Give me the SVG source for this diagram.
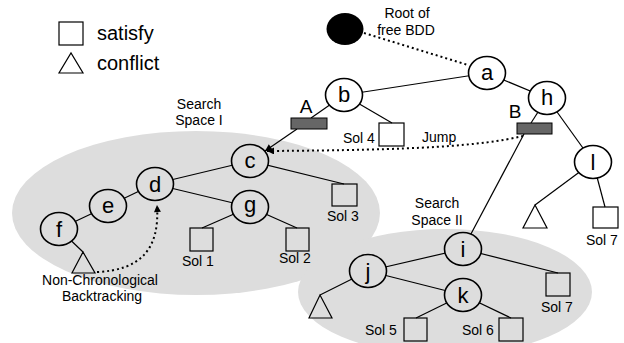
<svg xmlns="http://www.w3.org/2000/svg" width="624" height="343" viewBox="0 0 624 343">
  <style>
    .space { fill: #dddddd; stroke: none; }
    .edge { stroke: #000; stroke-width: 1.2; fill: none; }
    .dots { stroke: #000; stroke-width: 2; stroke-dasharray: 2 3; fill: none; }
    .node ellipse { stroke: #000; stroke-width: 1.6; }
    .node.out ellipse { fill: #fff; }
    .node.in ellipse { fill: #dddddd; }
    .node text { font-family: "Liberation Sans", Arial, sans-serif; font-size: 22px; text-anchor: middle; fill: #000; }
    .leaf { fill: none; stroke: #000; stroke-width: 1.2; }
    .lbl { font-family: "Liberation Sans", Arial, sans-serif; font-size: 14px; fill: #000; }
    .mid { text-anchor: middle; }
    .legend { font-family: "Liberation Sans", Arial, sans-serif; font-size: 20px; fill: #000; }
    .cut { fill: #666; stroke: #000; stroke-width: 1; }
    .big { font-family: "Liberation Sans", Arial, sans-serif; font-size: 19px; fill: #000; text-anchor: middle; }
  </style>
  <defs>
    <marker id="arrow" viewBox="0 0 10 10" refX="10" refY="5" markerWidth="8" markerHeight="7" markerUnits="userSpaceOnUse" orient="auto">
      <path d="M0,0 L10,5 L0,10 Z" fill="#000"/>
    </marker>
  </defs>

  <!-- search space regions -->
  <ellipse class="space" cx="196" cy="213" rx="184" ry="82"/>
  <ellipse class="space" cx="445" cy="292" rx="147" ry="63"/>

  <!-- legend -->
  <g id="legend">
    <rect class="leaf" x="59" y="22" width="24" height="23"/>
    <text class="legend" x="97" y="40">satisfy</text>
    <polygon class="leaf" points="59,73 83,73 71,53"/>
    <text class="legend" x="97" y="70">conflict</text>
  </g>

  <!-- region and annotation labels -->
  <text class="lbl mid" x="199" y="109">Search</text>
  <text class="lbl mid" x="199" y="125">Space I</text>
  <text class="lbl mid" x="437" y="208">Search</text>
  <text class="lbl mid" x="437" y="225">Space II</text>
  <text class="lbl mid" x="407" y="18">Root of</text>
  <text class="lbl mid" x="406" y="35">free BDD</text>
  <text class="lbl" x="422" y="142">Jump</text>
  <text class="lbl mid" x="100" y="285">Non-Chronological</text>
  <text class="lbl mid" x="102" y="301">Backtracking</text>

  <!-- connectors -->
  <g id="connectors">
    <line class="dots" x1="364" y1="33" x2="468" y2="65"/>
    <line class="edge" x1="487" y1="73" x2="344" y2="95"/>
    <line class="edge" x1="487" y1="73" x2="547" y2="98"/>
    <line class="edge" x1="344" y1="95" x2="311" y2="118"/>
    <line class="edge" x1="344" y1="95" x2="392" y2="123"/>
    <line class="edge" x1="547" y1="98" x2="531" y2="123"/>
    <line class="edge" x1="547" y1="98" x2="593" y2="162"/>
    <line class="edge" x1="593" y1="162" x2="535" y2="205"/>
    <line class="edge" x1="593" y1="162" x2="605" y2="207"/>
    <line class="edge" x1="297" y1="129" x2="265" y2="151" marker-end="url(#arrow)"/>
    <path class="dots" d="M523,136 C480,146 420,150 267,151" marker-end="url(#arrow)"/>
    <line class="edge" x1="524" y1="134" x2="463" y2="249"/>
    <line class="edge" x1="250" y1="161" x2="154" y2="184"/>
    <line class="edge" x1="250" y1="161" x2="344" y2="184"/>
    <line class="edge" x1="154" y1="184" x2="108" y2="206"/>
    <line class="edge" x1="108" y1="206" x2="59" y2="229"/>
    <line class="edge" x1="154" y1="184" x2="250" y2="207"/>
    <line class="edge" x1="59" y1="229" x2="83" y2="252"/>
    <line class="edge" x1="250" y1="207" x2="202" y2="228"/>
    <line class="edge" x1="250" y1="207" x2="297" y2="228"/>
    <path class="dots" d="M97,272 C140,270 160,250 157,205" marker-end="url(#arrow)"/>
    <line class="edge" x1="463" y1="249" x2="368" y2="271"/>
    <line class="edge" x1="463" y1="249" x2="558" y2="273"/>
    <line class="edge" x1="368" y1="271" x2="463" y2="295"/>
    <line class="edge" x1="368" y1="271" x2="320" y2="295"/>
    <line class="edge" x1="463" y1="295" x2="416" y2="318"/>
    <line class="edge" x1="463" y1="295" x2="511" y2="318"/>
  </g>

  <!-- root of the free BDD -->
  <g id="root">
    <ellipse cx="345" cy="29" rx="18.5" ry="16" fill="#000"/>
  </g>

  <!-- cut markers -->
  <g id="cutA">
    <rect class="cut" x="291" y="118" width="36" height="11"/>
    <text class="big" x="306" y="113">A</text>
  </g>
  <g id="cutB">
    <rect class="cut" x="517" y="123" width="35" height="11"/>
    <text class="big" x="515" y="118">B</text>
  </g>

  <!-- decision nodes -->
  <g id="node-a" class="node out"><ellipse cx="487" cy="73" rx="18.5" ry="16.5"/><text x="487" y="80">a</text></g>
  <g id="node-b" class="node out"><ellipse cx="344" cy="95" rx="18.5" ry="16.5"/><text x="344" y="102">b</text></g>
  <g id="node-h" class="node out"><ellipse cx="547" cy="98" rx="18.5" ry="16.5"/><text x="547" y="105">h</text></g>
  <g id="node-l" class="node out"><ellipse cx="593" cy="162" rx="18.5" ry="16.5"/><text x="593" y="170">l</text></g>
  <g id="node-c" class="node in"><ellipse cx="250" cy="161" rx="18.5" ry="16.5"/><text x="250" y="168">c</text></g>
  <g id="node-d" class="node in"><ellipse cx="155" cy="184" rx="18.5" ry="16.5"/><text x="155" y="192">d</text></g>
  <g id="node-e" class="node in"><ellipse cx="108" cy="206" rx="18.5" ry="16.5"/><text x="108" y="213">e</text></g>
  <g id="node-f" class="node in"><ellipse cx="59" cy="229" rx="18.5" ry="16.5"/><text x="59" y="237">f</text></g>
  <g id="node-g" class="node in"><ellipse cx="250" cy="207" rx="18.5" ry="16.5"/><text x="250" y="212">g</text></g>
  <g id="node-i" class="node in"><ellipse cx="463" cy="249" rx="18.5" ry="16.5"/><text x="463" y="257">i</text></g>
  <g id="node-j" class="node in"><ellipse cx="368" cy="271" rx="18.5" ry="16.5"/><text x="368" y="279">j</text></g>
  <g id="node-k" class="node in"><ellipse cx="463" cy="295" rx="18.5" ry="16.5"/><text x="463" y="303">k</text></g>

  <!-- terminals -->
  <g id="sol4"><rect class="leaf" x="379" y="123" width="25" height="23"/><text class="lbl" x="343" y="143">Sol 4</text></g>
  <g id="sol3"><rect class="leaf" x="332" y="184" width="25" height="22"/><text class="lbl" x="327" y="221">Sol 3</text></g>
  <g id="sol1"><rect class="leaf" x="190" y="228" width="23" height="23"/><text class="lbl" x="182" y="266">Sol 1</text></g>
  <g id="sol2"><rect class="leaf" x="286" y="228" width="23" height="23"/><text class="lbl" x="279" y="263">Sol 2</text></g>
  <g id="sol7a"><rect class="leaf" x="593" y="207" width="25" height="21"/><text class="lbl" x="586" y="245">Sol 7</text></g>
  <g id="sol7b"><rect class="leaf" x="546" y="273" width="24" height="23"/><text class="lbl" x="541" y="312">Sol 7</text></g>
  <g id="sol5"><rect class="leaf" x="404" y="318" width="23" height="23"/><text class="lbl" x="365" y="335">Sol 5</text></g>
  <g id="sol6"><rect class="leaf" x="499" y="318" width="24" height="23"/><text class="lbl" x="462" y="335">Sol 6</text></g>
  <g id="conflict-f"><polygon class="leaf" points="72,273 95,273 83,252"/></g>
  <g id="conflict-l"><polygon class="leaf" points="523,228 547,228 535,205"/></g>
  <g id="conflict-j"><polygon class="leaf" points="309,318 332,318 320,295"/></g>
</svg>
